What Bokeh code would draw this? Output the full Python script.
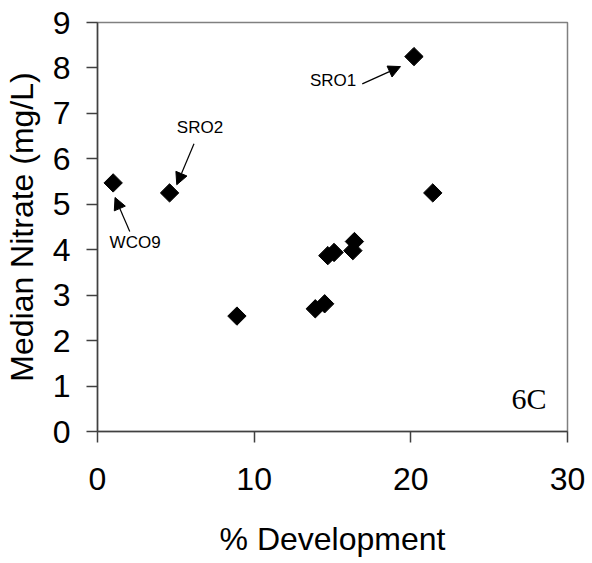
import math
from bokeh.plotting import figure
from bokeh.models import Arrow, NormalHead, Label, FixedTicker, ColumnDataSource
from bokeh.embed import file_html
from bokeh.resources import INLINE

# Data
development = [1.0, 4.6, 20.2, 21.4, 8.9, 13.9, 14.5, 14.7, 15.1, 16.3, 16.4]
nitrate = [5.47, 5.25, 8.25, 5.25, 2.54, 2.70, 2.81, 3.87, 3.94, 3.98, 4.18]

# Annotations (data units)
label_text = ["SRO1", "SRO2", "WCO9"]
label_x = [15.04, 6.54, 2.40]
label_y = [7.72, 6.70, 4.15]
arrow_x_start = [16.9, 6.16, 2.06]
arrow_y_start = [7.65, 6.33, 4.40]
arrow_x_end = [19.34, 5.06, 1.12]
arrow_y_end = [8.03, 5.43, 5.15]

x_ticks = [0, 10, 20, 30]
y_ticks = [0, 1, 2, 3, 4, 5, 6, 7, 8, 9]

p = figure(width=592, height=563, output_backend="svg", toolbar_location=None,
           x_range=(0, 30), y_range=(0, 9),
           min_border_left=97, min_border_right=25, min_border_top=22, min_border_bottom=132)

p.xgrid.visible = False
p.ygrid.visible = False
p.outline_line_color = "#808080"
p.outline_line_width = 1.5

src = ColumnDataSource(dict(x=development, y=nitrate))
p.scatter("x", "y", source=src, marker="square", angle=math.pi / 4, size=13,
          fill_color="black", line_color="black")

for ax in (p.xaxis[0], p.yaxis[0]):
    ax.axis_line_color = "#404040"
    ax.axis_line_width = 1.5
    ax.major_tick_line_color = "#404040"
    ax.major_tick_line_width = 1.5
    ax.minor_tick_line_color = None
    ax.major_tick_in = 0
    ax.major_tick_out = 11
    ax.major_label_text_font = "Liberation Sans"
    ax.major_label_text_font_size = "32px"
    ax.major_label_text_color = "black"
    ax.axis_label_text_font = "Liberation Sans"
    ax.axis_label_text_font_size = "32px"
    ax.axis_label_text_font_style = "normal"
    ax.axis_label_text_color = "black"

p.xaxis.ticker = FixedTicker(ticks=x_ticks)
p.yaxis.ticker = FixedTicker(ticks=y_ticks)
p.xaxis.axis_label = "% Development"
p.yaxis.axis_label = "Median Nitrate (mg/L)"
p.xaxis.major_label_standoff = 25
p.yaxis.major_label_standoff = 16
p.xaxis.axis_label_standoff = 28
p.yaxis.axis_label_standoff = 10

for t, x, y in zip(label_text, label_x, label_y):
    p.add_layout(Label(x=x, y=y, text=t, text_font="Liberation Sans", text_font_size="17px",
                       text_align="center", text_baseline="middle", text_color="black"))

for xs, ys, xe, ye in zip(arrow_x_start, arrow_y_start, arrow_x_end, arrow_y_end):
    p.add_layout(Arrow(x_start=xs, y_start=ys, x_end=xe, y_end=ye, line_width=1.2, line_color="black",
                       end=NormalHead(size=12, fill_color="black", line_color="black")))

p.add_layout(Label(x=27.55, y=0.73, text="6C", text_font="Liberation Serif", text_font_size="30px",
                   text_align="center", text_baseline="middle", text_color="black"))

open("out.html", "w").write(file_html(p, INLINE))
